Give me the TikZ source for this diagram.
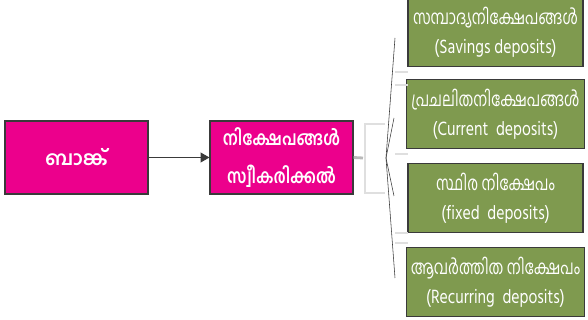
\documentclass[tikz,border=0pt]{standalone}
\usepackage{fontspec}
\usepackage{graphicx}
\usepackage{xcolor}
\usetikzlibrary{arrows}
\newfontfamily\mlfont[Script=Malayalam]{Hind Kochi}
\definecolor{bankpink}{HTML}{EC008C}
\definecolor{depgreen}{HTML}{7F9A4F}
\definecolor{boxrim}{HTML}{3A3A3A}
\newcommand{\narrow}[1]{\scalebox{0.8}[1]{#1}}
\newcommand{\mlnarrow}[1]{\scalebox{0.74}[1]{#1}}
\tikzset{
  bankbox/.style={draw=boxrim, line width=0.8pt, fill=bankpink, text=white,
    minimum width=3.575cm, minimum height=1.825cm, align=center,
    font=\mlfont\bfseries\fontsize{14}{27}\selectfont},
  typebox/.style={draw=boxrim, line width=0.8pt, fill=depgreen, text=white,
    minimum width=4.375cm, minimum height=1.72cm, align=center,
    font=\mlfont\fontsize{14}{21}\selectfont},
  shade/.style={gray!25, line width=1.3pt}
}
\begin{document}
\begin{tikzpicture}[x=0.025cm, y=-0.025cm]
\useasboundingbox (0,0) rectangle (588,320);
% linke Seite
\node[bankbox] (bank) at (76.5,157.5) {ബാങ്ക്};
\node[bankbox] (accept) at (281.5,157.5) {\scalebox{0.8}[1]{നിക്ഷേപങ്ങൾ}\\\scalebox{0.8}[1]{സ്വീകരിക്കൽ}};
\draw[-triangle 60, line width=0.7pt, boxrim] (bank) -- (accept);
% die vier Arten
\node[typebox] (savings) at (495.5,32) {\mlnarrow{സമ്പാദ്യനിക്ഷേപങ്ങൾ}\\\narrow{(Savings deposits)}};
\node[typebox] (current) at (495.5,114) {\mlnarrow{പ്രചലിതനിക്ഷേപങ്ങൾ}\\\narrow{(Current\ \ deposits)}};
\node[typebox] (fixed) at (495.5,198) {\mlnarrow{സ്ഥിര നിക്ഷേപം}\\\narrow{(fixed\ \ deposits)}};
\node[typebox] (recurring) at (495.5,282) {\mlnarrow{ആവർത്തിത നിക്ഷേപം}\\\narrow{(Recurring\ \ deposits)}};
% blasse Klammer hinter dem Fächer
\draw[gray!55, line width=2pt] (accept.east) -- (363,158);
\draw[shade] (385,124) -- (365,124) -- (365,193) -- (385,193);
\draw[shade] (395,72) -- (408,72);
\draw[shade] (395,85) -- (408,85);
\draw[shade] (395,154) -- (408,154);
\draw[shade] (395,233) -- (408,233);
\draw[shade] (395,243) -- (408,243);
% Fächer
\coordinate (fan) at (386,158);
\coordinate (f1) at (395,38);
\coordinate (f2) at (394,118);
\coordinate (f3) at (394,196);
\coordinate (f4) at (395,278);
\foreach \e in {f1,f2,f3,f4}
  \draw[boxrim, line width=0.4pt] (fan) -- (\e);
\end{tikzpicture}
\end{document}
